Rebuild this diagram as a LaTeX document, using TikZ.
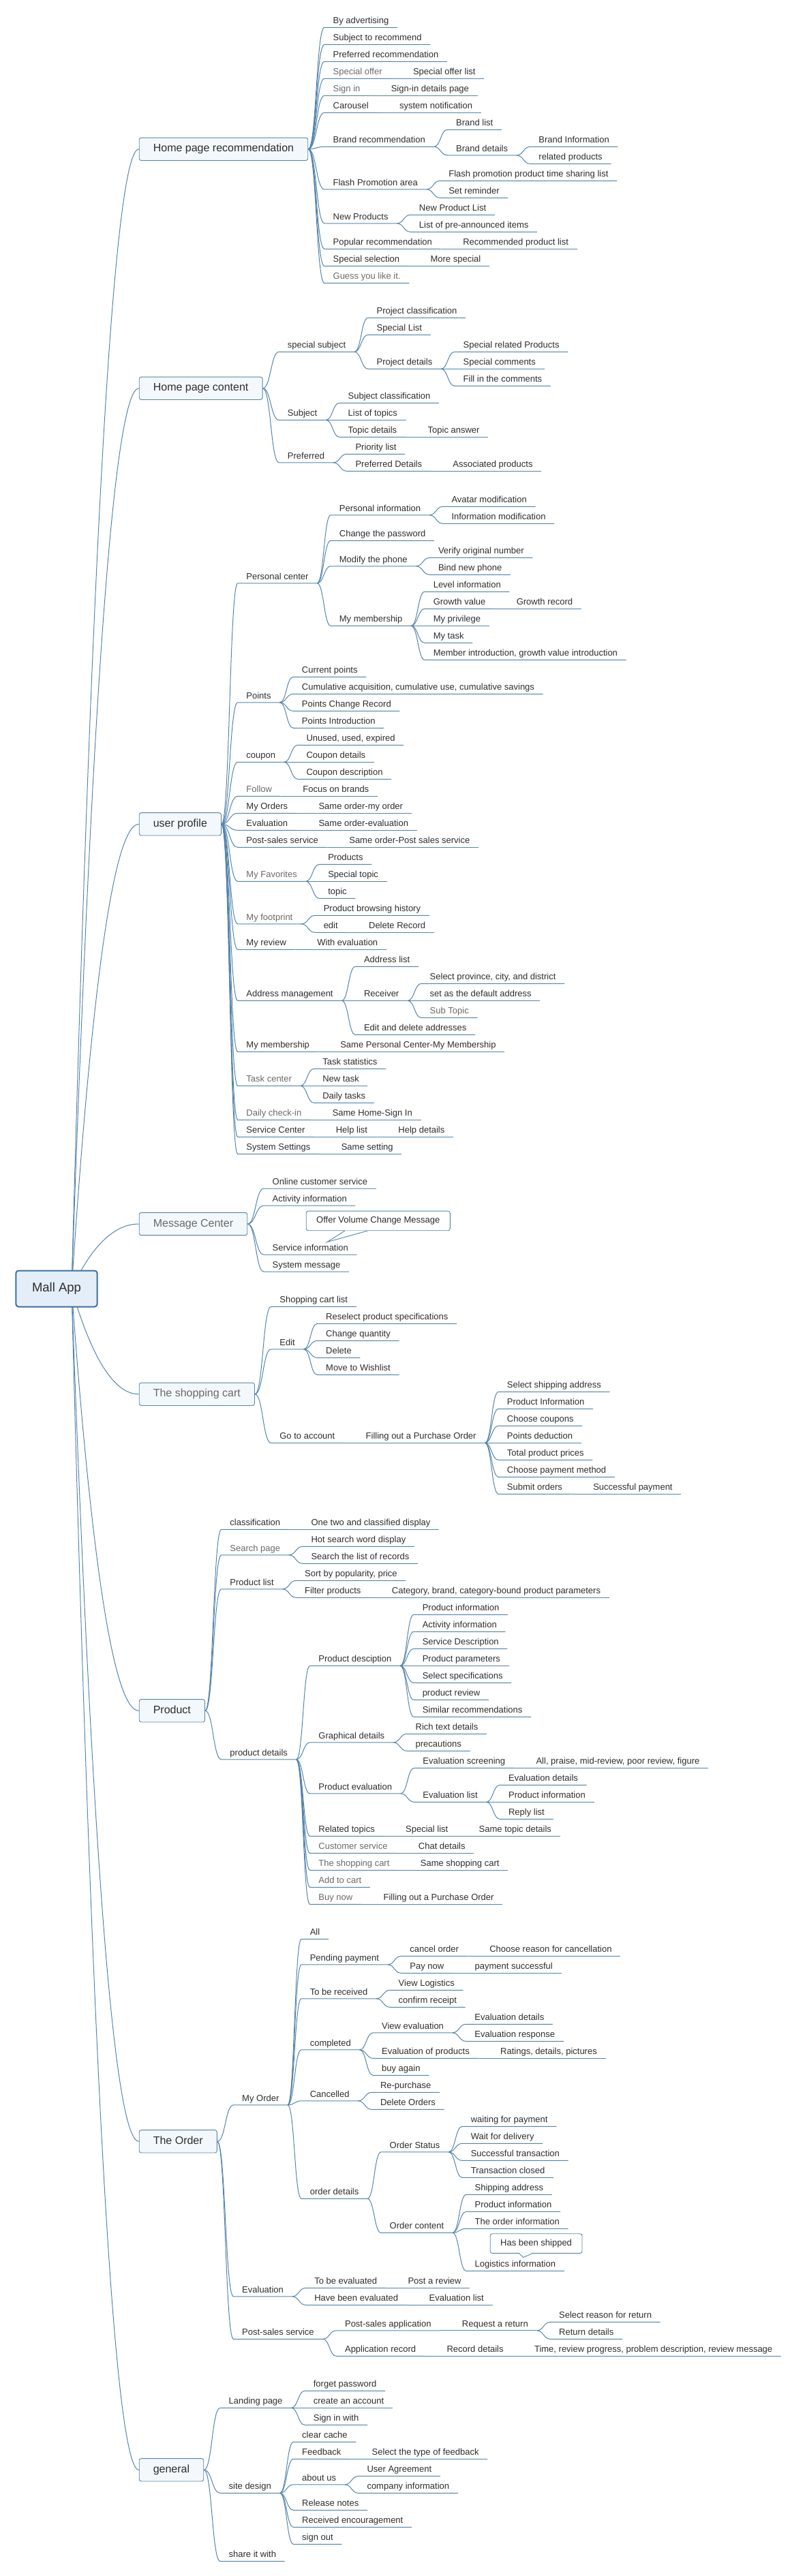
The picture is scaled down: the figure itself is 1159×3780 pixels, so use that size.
\documentclass[tikz,border=0pt]{standalone}
\usepackage{fontspec}
\setmainfont{Liberation Sans}
\usetikzlibrary{calc}
\pgfdeclarelayer{background}
\pgfsetlayers{background,main}
\definecolor{lc}{RGB}{84,132,172}
\definecolor{bc}{RGB}{84,132,172}
\definecolor{bf}{RGB}{243,248,252}
\definecolor{rf}{RGB}{228,238,248}
\definecolor{rb}{RGB}{62,112,158}
\definecolor{txt}{RGB}{45,45,45}
\definecolor{gtxt}{RGB}{105,105,105}
\newcommand\leaffont{\fontsize{13}{15}\selectfont}
\newcommand\branchfont{\fontsize{16}{19}\selectfont}
\newcommand\rootfont{\fontsize{18.5}{22}\selectfont}
\tikzset{
  leaf/.style={anchor=south west, inner xsep=12.5pt, inner ysep=2.4pt, text height=9.6pt, text depth=3pt, font=\leaffont, text=txt},
  gleaf/.style={leaf, text=gtxt},
  conn/.style={draw=lc, line width=1pt},
  branch/.style={anchor=west, draw=bc, fill=bf, line width=0.9pt, rounded corners=3pt, minimum height=33.3pt, inner xsep=20.6pt, text height=11.6pt, text depth=3.4pt, font=\branchfont, text=txt},
  gbranch/.style={branch, text=gtxt},
  rootbox/.style={draw=rb, fill=rf, line width=2pt, rounded corners=4pt, minimum width=119.4pt, minimum height=53pt, font=\rootfont, text=txt},
  callout/.style={anchor=north west, draw=bc, fill=white, line width=0.9pt, rounded corners=3pt, inner xsep=15pt, minimum height=28.6pt, text height=9.6pt, text depth=3pt, font=\leaffont, text=txt},
}
\newcommand\kid[5][leaf]{%
  \path let \p1=(#3.south east) in node[#1] (#2) at (\x1+20pt,-#4pt) {#5};
  \draw[conn] (#3.south east) .. controls +(10pt,0pt) and +(-10pt,0pt) .. (#2.south west) -- (#2.south east);
}
\newcommand\bkid[5][leaf]{%
  \path let \p1=(#3.east) in node[#1] (#2) at (\x1+23.75pt,-#4pt) {#5};
  \draw[conn] (#3.east) .. controls +(12pt,0pt) and +(-12pt,0pt) .. (#2.south west) -- (#2.south east);
}
\newcommand\rootlink[1]{%
  \draw[conn] (rootc) .. controls ($(rootc)!0.6667!(ctl |- #1.west)$) and ($(#1.west)!0.6667!(ctl |- #1.west)$) .. (#1.west);
}
\begin{document}
\begin{tikzpicture}[x=1pt,y=1pt]
\useasboundingbox (0,0) rectangle (1159,-3780);
\node[rootbox] (root) at (83,-1891) {Mall App};
\coordinate (rootc) at (105,-1891);
\coordinate (ctl) at (150,0);
\node[branch] (hr) at (203.75,-218.8) {Home page recommendation};
\node[branch] (hc) at (203.75,-569.8) {Home page content};
\node[branch] (up) at (203.75,-1209.3) {user profile};
\node[gbranch] (mc) at (203.75,-1796) {Message Center};
\node[gbranch] (sc) at (203.75,-2045.8) {The shopping cart};
\node[branch] (pr) at (203.75,-2510.3) {Product};
\node[branch] (od) at (203.75,-3142.3) {The Order};
\node[branch] (gn) at (203.75,-3624.3) {general};
\begin{pgfonlayer}{background}
\foreach \b in {hr,hc,up,mc,sc,pr,od,gn} {\rootlink{\b}}
\end{pgfonlayer}
% Home page recommendation
\bkid{a1}{hr}{40.3}{By advertising}
\bkid{a2}{hr}{65.3}{Subject to recommend}
\bkid{a3}{hr}{90.3}{Preferred recommendation}
\bkid[gleaf]{a4}{hr}{115.3}{Special offer}
\kid{a4a}{a4}{115.3}{Special offer list}
\bkid[gleaf]{a5}{hr}{140.3}{Sign in}
\kid{a5a}{a5}{140.3}{Sign-in details page}
\bkid{a6}{hr}{165.3}{Carousel}
\kid{a6a}{a6}{165.3}{system notification}
\bkid{a7}{hr}{215.3}{Brand recommendation}
\kid{a7a}{a7}{190.3}{Brand list}
\kid{a7b}{a7}{227.8}{Brand details}
\kid{a7b1}{a7b}{215.3}{Brand Information}
\kid{a7b2}{a7b}{240.3}{related products}
\bkid{a8}{hr}{277.8}{Flash Promotion area}
\kid{a8a}{a8}{265.3}{Flash promotion product time sharing list}
\kid{a8b}{a8}{290.3}{Set reminder}
\bkid{a9}{hr}{327.8}{New Products}
\kid{a9a}{a9}{315.3}{New Product List}
\kid{a9b}{a9}{340.3}{List of pre-announced items}
\bkid{a10}{hr}{365.3}{Popular recommendation}
\kid{a10a}{a10}{365.3}{Recommended product list}
\bkid{a11}{hr}{390.3}{Special selection}
\kid{a11a}{a11}{390.3}{More special}
\bkid[gleaf]{a12}{hr}{415.3}{Guess you like it.}
% Home page content
\bkid{b1}{hc}{516.3}{special subject}
\kid{b1a}{b1}{466.3}{Project classification}
\kid{b1b}{b1}{491.3}{Special List}
\kid{b1c}{b1}{541.3}{Project details}
\kid{b1c1}{b1c}{516.3}{Special related Products}
\kid{b1c2}{b1c}{541.3}{Special comments}
\kid{b1c3}{b1c}{566.3}{Fill in the comments}
\bkid{b2}{hc}{616.3}{Subject}
\kid{b2a}{b2}{591.3}{Subject classification}
\kid{b2b}{b2}{616.3}{List of topics}
\kid{b2c}{b2}{641.3}{Topic details}
\kid{b2c1}{b2c}{641.3}{Topic answer}
\bkid{b3}{hc}{678.8}{Preferred}
\kid{b3a}{b3}{666.3}{Priority list}
\kid{b3b}{b3}{691.3}{Preferred Details}
\kid{b3b1}{b3b}{691.3}{Associated products}
% user profile
\bkid{c1}{up}{855.8}{Personal center}
\kid{c1a}{c1}{755.8}{Personal information}
\kid{c1a1}{c1a}{743.3}{Avatar modification}
\kid{c1a2}{c1a}{768.3}{Information modification}
\kid{c1b}{c1}{793.3}{Change the password}
\kid{c1c}{c1}{830.8}{Modify the phone}
\kid{c1c1}{c1c}{818.3}{Verify original number}
\kid{c1c2}{c1c}{843.3}{Bind new phone}
\kid{c1d}{c1}{918.3}{My membership}
\kid{c1d1}{c1d}{868.3}{Level information}
\kid{c1d2}{c1d}{893.3}{Growth value}
\kid{c1d2a}{c1d2}{893.3}{Growth record}
\kid{c1d3}{c1d}{918.3}{My privilege}
\kid{c1d4}{c1d}{943.3}{My task}
\kid{c1d5}{c1d}{968.3}{Member introduction, growth value introduction}
\bkid{c2}{up}{1030.8}{Points}
\kid{c2a}{c2}{993.3}{Current points}
\kid{c2b}{c2}{1018.3}{Cumulative acquisition, cumulative use, cumulative savings}
\kid{c2c}{c2}{1043.3}{Points Change Record}
\kid{c2d}{c2}{1068.3}{Points Introduction}
\bkid{c3}{up}{1118.3}{coupon}
\kid{c3a}{c3}{1093.3}{Unused, used, expired}
\kid{c3b}{c3}{1118.3}{Coupon details}
\kid{c3c}{c3}{1143.3}{Coupon description}
\bkid[gleaf]{c4}{up}{1168.3}{Follow}
\kid{c4a}{c4}{1168.3}{Focus on brands}
\bkid{c5}{up}{1193.3}{My Orders}
\kid{c5a}{c5}{1193.3}{Same order-my order}
\bkid{c6}{up}{1218.3}{Evaluation}
\kid{c6a}{c6}{1218.3}{Same order-evaluation}
\bkid{c7}{up}{1243.3}{Post-sales service}
\kid{c7a}{c7}{1243.3}{Same order-Post sales service}
\bkid[gleaf]{c8}{up}{1293.3}{My Favorites}
\kid{c8a}{c8}{1268.3}{Products}
\kid{c8b}{c8}{1293.3}{Special topic}
\kid{c8c}{c8}{1318.3}{topic}
\bkid[gleaf]{c9}{up}{1355.8}{My footprint}
\kid{c9a}{c9}{1343.3}{Product browsing history}
\kid{c9b}{c9}{1368.3}{edit}
\kid{c9b1}{c9b}{1368.3}{Delete Record}
\bkid{c10}{up}{1393.3}{My review}
\kid{c10a}{c10}{1393.3}{With evaluation}
\bkid{c11}{up}{1468.3}{Address management}
\kid{c11a}{c11}{1418.3}{Address list}
\kid{c11b}{c11}{1468.3}{Receiver}
\kid{c11b1}{c11b}{1443.3}{Select province, city, and district}
\kid{c11b2}{c11b}{1468.3}{set as the default address}
\kid[gleaf]{c11b3}{c11b}{1493.3}{Sub Topic}
\kid{c11c}{c11}{1518.3}{Edit and delete addresses}
\bkid{c12}{up}{1543.3}{My membership}
\kid{c12a}{c12}{1543.3}{Same Personal Center-My Membership}
\bkid[gleaf]{c13}{up}{1593.3}{Task center}
\kid{c13a}{c13}{1568.3}{Task statistics}
\kid{c13b}{c13}{1593.3}{New task}
\kid{c13c}{c13}{1618.3}{Daily tasks}
\bkid[gleaf]{c14}{up}{1643.3}{Daily check-in}
\kid{c14a}{c14}{1643.3}{Same Home-Sign In}
\bkid{c15}{up}{1668.3}{Service Center}
\kid{c15a}{c15}{1668.3}{Help list}
\kid{c15b}{c15a}{1668.3}{Help details}
\bkid{c16}{up}{1693.3}{System Settings}
\kid{c16a}{c16}{1693.3}{Same setting}
% Message Center
\bkid{d1}{mc}{1744}{Online customer service}
\bkid{d2}{mc}{1769}{Activity information}
\bkid{d3}{mc}{1841}{Service information}
\bkid{d4}{mc}{1866}{System message}
\node[callout] (d3c) at (448.75,-1776.7) {Offer Volume Change Message};
\coordinate (d3t) at ([xshift=31pt,yshift=-16.4pt]d3c.south west);
\fill[white] ([xshift=57pt,yshift=0.6pt]d3c.south west) -- (d3t) -- ([xshift=90pt,yshift=0.6pt]d3c.south west) -- cycle;
\draw[bc, line width=0.9pt] ([xshift=57pt]d3c.south west) -- (d3t) -- ([xshift=90pt]d3c.south west);
% The shopping cart
\bkid{e1}{sc}{1917.3}{Shopping cart list}
\bkid{e2}{sc}{1979.8}{Edit}
\kid{e2a}{e2}{1942.3}{Reselect product specifications}
\kid{e2b}{e2}{1967.3}{Change quantity}
\kid{e2c}{e2}{1992.3}{Delete}
\kid{e2d}{e2}{2017.3}{Move to Wishlist}
\bkid{e3}{sc}{2117.3}{Go to account}
\kid{e3a}{e3}{2117.3}{Filling out a Purchase Order}
\kid{e3a1}{e3a}{2042.3}{Select shipping address}
\kid{e3a2}{e3a}{2067.3}{Product Information}
\kid{e3a3}{e3a}{2092.3}{Choose coupons}
\kid{e3a4}{e3a}{2117.3}{Points deduction}
\kid{e3a5}{e3a}{2142.3}{Total product prices}
\kid{e3a6}{e3a}{2167.3}{Choose payment method}
\kid{e3a7}{e3a}{2192.3}{Submit orders}
\kid{e3a7a}{e3a7}{2192.3}{Successful payment}
% Product
\bkid{f1}{pr}{2244.3}{classification}
\kid{f1a}{f1}{2244.3}{One two and classified display}
\bkid[gleaf]{f2}{pr}{2281.8}{Search page}
\kid{f2a}{f2}{2269.3}{Hot search word display}
\kid{f2b}{f2}{2294.3}{Search the list of records}
\bkid{f3}{pr}{2331.8}{Product list}
\kid{f3a}{f3}{2319.3}{Sort by popularity, price}
\kid{f3b}{f3}{2344.3}{Filter products}
\kid{f3b1}{f3b}{2344.3}{Category, brand, category-bound product parameters}
\bkid{f4}{pr}{2581.8}{product details}
\kid{f4a}{f4}{2444.3}{Product desciption}
\kid{f4a1}{f4a}{2369.3}{Product information}
\kid{f4a2}{f4a}{2394.3}{Activity information}
\kid{f4a3}{f4a}{2419.3}{Service Description}
\kid{f4a4}{f4a}{2444.3}{Product parameters}
\kid{f4a5}{f4a}{2469.3}{Select specifications}
\kid{f4a6}{f4a}{2494.3}{product review}
\kid{f4a7}{f4a}{2519.3}{Similar recommendations}
\kid{f4b}{f4}{2556.8}{Graphical details}
\kid{f4b1}{f4b}{2544.3}{Rich text details}
\kid{f4b2}{f4b}{2569.3}{precautions}
\kid{f4c}{f4}{2631.8}{Product evaluation}
\kid{f4c1}{f4c}{2594.3}{Evaluation screening}
\kid{f4c1a}{f4c1}{2594.3}{All, praise, mid-review, poor review, figure}
\kid{f4c2}{f4c}{2644.3}{Evaluation list}
\kid{f4c2a}{f4c2}{2619.3}{Evaluation details}
\kid{f4c2b}{f4c2}{2644.3}{Product information}
\kid{f4c2c}{f4c2}{2669.3}{Reply list}
\kid{f4d}{f4}{2694.3}{Related topics}
\kid{f4d1}{f4d}{2694.3}{Special list}
\kid{f4d2}{f4d1}{2694.3}{Same topic details}
\kid[gleaf]{f4e}{f4}{2719.3}{Customer service}
\kid{f4e1}{f4e}{2719.3}{Chat details}
\kid[gleaf]{f4f}{f4}{2744.3}{The shopping cart}
\kid{f4f1}{f4f}{2744.3}{Same shopping cart}
\kid[gleaf]{f4g}{f4}{2769.3}{Add to cart}
\kid[gleaf]{f4h}{f4}{2794.3}{Buy now}
\kid{f4h1}{f4h}{2794.3}{Filling out a Purchase Order}
% The Order
\bkid{g1}{od}{3088.8}{My Order}
\kid{g1a}{g1}{2845.3}{All}
\kid{g1b}{g1}{2882.8}{Pending payment}
\kid{g1b1}{g1b}{2870.3}{cancel order}
\kid{g1b1a}{g1b1}{2870.3}{Choose reason for cancellation}
\kid{g1b2}{g1b}{2895.3}{Pay now}
\kid{g1b2a}{g1b2}{2895.3}{payment successful}
\kid{g1c}{g1}{2932.8}{To be received}
\kid{g1c1}{g1c}{2920.3}{View Logistics}
\kid{g1c2}{g1c}{2945.3}{confirm receipt}
\kid{g1d}{g1}{3007.8}{completed}
\kid{g1d1}{g1d}{2982.8}{View evaluation}
\kid{g1d1a}{g1d1}{2970.3}{Evaluation details}
\kid{g1d1b}{g1d1}{2995.3}{Evaluation response}
\kid{g1d2}{g1d}{3020.3}{Evaluation of products}
\kid{g1d2a}{g1d2}{3020.3}{Ratings, details, pictures}
\kid{g1d3}{g1d}{3045.3}{buy again}
\kid{g1e}{g1}{3082.8}{Cancelled}
\kid{g1e1}{g1e}{3070.3}{Re-purchase}
\kid{g1e2}{g1e}{3095.3}{Delete Orders}
\kid{g1f}{g1}{3226.3}{order details}
\kid{g1f1}{g1f}{3157.8}{Order Status}
\kid{g1f1a}{g1f1}{3120.3}{waiting for payment}
\kid{g1f1b}{g1f1}{3145.3}{Wait for delivery}
\kid{g1f1c}{g1f1}{3170.3}{Successful transaction}
\kid{g1f1d}{g1f1}{3195.3}{Transaction closed}
\kid{g1f2}{g1f}{3276.3}{Order content}
\kid{g1f2a}{g1f2}{3220.3}{Shipping address}
\kid{g1f2b}{g1f2}{3245.3}{Product information}
\kid{g1f2c}{g1f2}{3270.3}{The order information}
\kid{g1f2d}{g1f2}{3332.3}{Logistics information}
\node[callout] (g1f2dc) at (718.75,-3277.3) {Has been shipped};
\coordinate (g1f2dt) at ([xshift=49pt,yshift=-5.6pt]g1f2dc.south west);
\fill[white] ([xshift=43pt,yshift=0.6pt]g1f2dc.south west) -- (g1f2dt) -- ([xshift=62pt,yshift=0.6pt]g1f2dc.south west) -- cycle;
\draw[bc, line width=0.9pt] ([xshift=43pt]g1f2dc.south west) -- (g1f2dt) -- ([xshift=62pt]g1f2dc.south west);
\bkid{g2}{od}{3369.8}{Evaluation}
\kid{g2a}{g2}{3357.3}{To be evaluated}
\kid{g2a1}{g2a}{3357.3}{Post a review}
\kid{g2b}{g2}{3382.3}{Have been evaluated}
\kid{g2b1}{g2b}{3382.3}{Evaluation list}
\bkid{g3}{od}{3432.3}{Post-sales service}
\kid{g3a}{g3}{3419.8}{Post-sales application}
\kid{g3a1}{g3a}{3419.8}{Request a return}
\kid{g3a1a}{g3a1}{3407.3}{Select reason for return}
\kid{g3a1b}{g3a1}{3432.3}{Return details}
\kid{g3b}{g3}{3457.3}{Application record}
\kid{g3b1}{g3b}{3457.3}{Record details}
\kid{g3b2}{g3b1}{3457.3}{Time, review progress, problem description, review message}
% general
\bkid{h1}{gn}{3533.3}{Landing page}
\kid{h1a}{h1}{3508.3}{forget password}
\kid{h1b}{h1}{3533.3}{create an account}
\kid{h1c}{h1}{3558.3}{Sign in with}
\bkid{h2}{gn}{3658.3}{site design}
\kid{h2a}{h2}{3583.3}{clear cache}
\kid{h2b}{h2}{3608.3}{Feedback}
\kid{h2b1}{h2b}{3608.3}{Select the type of feedback}
\kid{h2c}{h2}{3645.8}{about us}
\kid{h2c1}{h2c}{3633.3}{User Agreement}
\kid{h2c2}{h2c}{3658.3}{company information}
\kid{h2d}{h2}{3683.3}{Release notes}
\kid{h2e}{h2}{3708.3}{Received encouragement}
\kid{h2f}{h2}{3733.3}{sign out}
\bkid{h3}{gn}{3758.3}{share it with}
\end{tikzpicture}
\end{document}
